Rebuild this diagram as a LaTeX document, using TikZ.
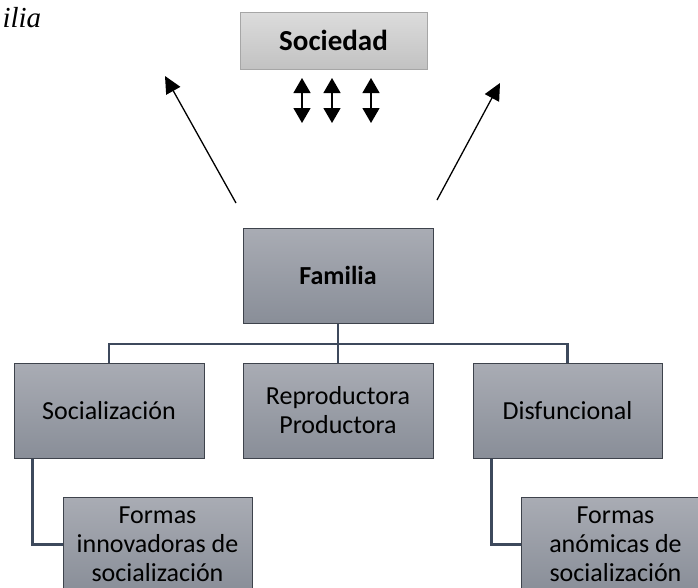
\documentclass[tikz,border=0pt]{standalone}
\usepackage{fontspec}
\setmainfont{Carlito}
\newfontfamily\serifit{Liberation Serif}
\usetikzlibrary{arrows.meta}
\definecolor{boxtop}{HTML}{A9ACB4}
\definecolor{boxbot}{HTML}{898E98}
\definecolor{boxline}{HTML}{3E434C}
\definecolor{linkcol}{HTML}{3D495C}
\definecolor{soctop}{HTML}{DCDCDC}
\definecolor{socbot}{HTML}{C2C2C2}

\begin{document}
\begin{tikzpicture}[x=1pt, y=-1pt, font=\fontsize{26}{29}\selectfont,
	box/.style={draw=boxline, line width=1pt, top color=boxtop, bottom color=boxbot, align=center, minimum height=95pt, inner sep=2pt},
	link/.style={draw=linkcol, line width=2.4pt},
	dbl/.style={line width=1.3pt, {Triangle[width=17pt,length=15pt]}-{Triangle[width=17pt,length=15pt]}},
	up/.style={line width=1.3pt, -{Triangle[width=16pt,length=17pt]}}]
	\useasboundingbox (0,0) rectangle (698,587);
	\clip (0,0) rectangle (698,587);
	\node[anchor=base west, font=\fontsize{29}{30}\serifit\itshape] (title) at (-1,27) {ilia};
	\node[box, draw=gray!70, top color=soctop, bottom color=socbot, minimum width=187pt, minimum height=57pt, font=\fontsize{29}{31}\selectfont\bfseries] (soc) at (333.5,40.5) {Sociedad};
	\foreach \x [count=\i] in {302,332,371} {
		\coordinate (a\i) at (\x,78);
		\coordinate (b\i) at (\x,123);
		\draw[dbl] (a\i) -- (b\i);
	}
	\coordinate (lt) at (236,203);
	\coordinate (lh) at (165,76);
	\coordinate (rt) at (437,200);
	\coordinate (rh) at (500,83);
	\draw[up] (lt) -- (lh);
	\draw[up] (rt) -- (rh);
	\node[box, minimum width=190pt, font=\fontsize{26}{29}\selectfont\bfseries] (fam) at (338,275.5) {Familia};
	\node[box, minimum width=190pt] (social) at (109,410.5) {Socialización};
	\node[box, minimum width=190pt] (repro) at (338,410.5) {Reproductora\\Productora};
	\node[box, minimum width=189pt] (disf) at (567.5,410.5) {Disfuncional};
	\node[box, minimum width=189pt] (innov) at (157.5,544.5) {Formas\\innovadoras de\\socialización};
	\node[box, minimum width=189pt] (anom) at (615.5,544.5) {Formas\\anómicas de\\socialización};
	\coordinate (bus) at (338,344);
	\draw[link] (fam.south) -- (bus) -| (social.north);
	\draw[link] (bus) -| (disf.north);
	\draw[link] (bus) -- (repro.north);
	\draw[link] ([xshift=19pt]social.south west) |- (innov.west);
	\draw[link] ([xshift=19pt]disf.south west) |- (anom.west);
\end{tikzpicture}
\end{document}
